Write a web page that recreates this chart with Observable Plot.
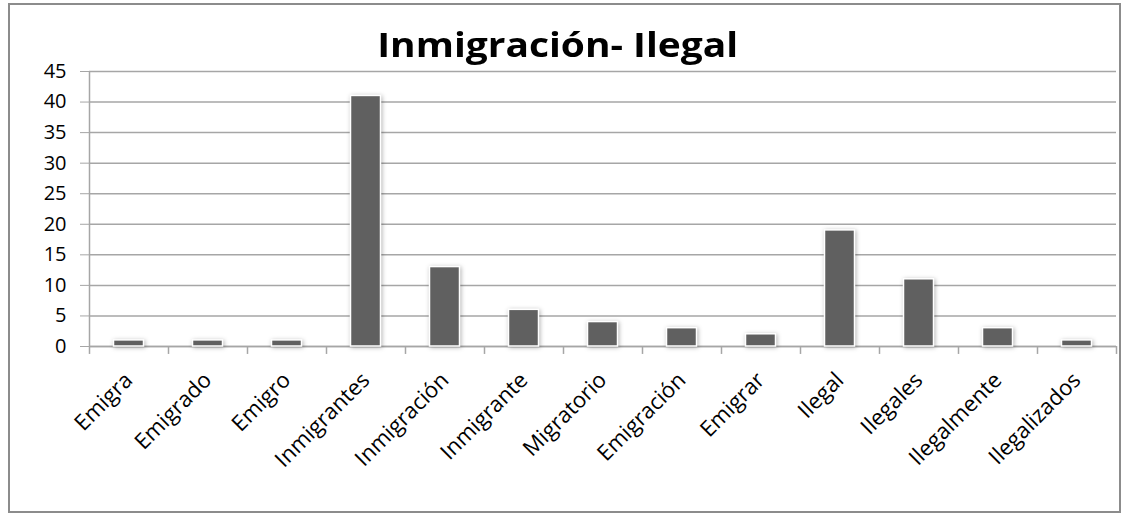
<!DOCTYPE html>
<html><head><meta charset="utf-8">
<script src="https://cdn.jsdelivr.net/npm/d3@7"></script>
<script src="https://cdn.jsdelivr.net/npm/@observablehq/plot@0.6"></script>
<style>
html,body{margin:0;padding:0;background:#fff;}
#wrap{position:relative;width:1122px;height:514px;overflow:hidden;font-family:"Open Sans",Lato,sans-serif;}
#frame{position:absolute;left:8px;top:3px;width:1113px;height:510px;border:2px solid #8c8c8c;box-sizing:border-box;}
#title{position:absolute;left:0;width:1115px;top:27px;text-align:center;font-weight:bold;font-size:34px;line-height:34px;color:#000;white-space:nowrap;}
#title span{display:inline-block;transform-origin:50% 50%;}
#chart{position:absolute;left:0;top:60px;}
#chart g[aria-label="bar"] rect{filter:drop-shadow(1px 1px 2px rgba(0,0,0,0.3));}
</style></head>
<body>
<div id="wrap">
  <div id="frame"></div>
  <div id="title"><span>Inmigración- Ilegal</span></div>
  <div id="chart"></div>
</div>
<script>
const categories = ["Emigra","Emigrado","Emigro","Inmigrantes","Inmigración","Inmigrante","Migratorio","Emigración","Emigrar","Ilegal","Ilegales","Ilegalmente","Ilegalizados"];
const values = [1,1,1,41,13,6,4,3,2,19,11,3,1];
const yTicks = [0,5,10,15,20,25,30,35,40,45];

const data = categories.map((c,i)=>({category:c,value:values[i]}));
const W=1122,H=454,mL=89,mR=6;
const step=(W-mL-mR)/categories.length;
const barW=30;
const inset=(step-barW)/2;
const grid="#a6a6a6";
const last=[categories[categories.length-1]];

const chart = Plot.plot({
  width:W,height:H,marginTop:11,marginBottom:168,marginLeft:mL,marginRight:mR,
  style:{fontFamily:'"Open Sans",Lato,sans-serif',fontSize:"20px",color:"#000",background:"transparent",overflow:"visible"},
  x:{domain:categories,padding:0,label:null},
  y:{domain:[0,45],ticks:yTicks,label:null},
  marks:[
    Plot.gridY(yTicks,{stroke:grid,strokeOpacity:1,strokeWidth:1.5}),
    Plot.ruleX([categories[0]],{x:d=>d,y1:0,y2:45,dx:-step/2,stroke:grid,strokeWidth:1.5}),
    Plot.ruleX(categories,{x:d=>d,y1:0,y2:-1.3,dx:-step/2,stroke:grid,strokeWidth:1.5}),
    Plot.ruleX(last,{x:d=>d,y1:0,y2:-1.3,dx:step/2,stroke:grid,strokeWidth:1.5}),
    Plot.ruleY([0],{stroke:grid,strokeWidth:1.5}),
    Plot.barY(data,{x:"category",y:"value",fill:"#606060",stroke:"#fff",strokeWidth:1.5,insetLeft:inset,insetRight:inset}),
    Plot.axisY(yTicks,{tickSize:9,tickPadding:14,stroke:grid,fill:"#000",fontSize:20,strokeOpacity:1}),
    Plot.axisX({tickSize:0,tickRotate:-45,tickPadding:30,fill:"#000",fontSize:22})
  ]
});
document.getElementById("chart").appendChild(chart);

// fit title width to the reference's span
const span=document.querySelector("#title span");
const w=span.getBoundingClientRect().width;
span.style.transform=`scaleX(${361/w})`;
</script>
</body></html>
